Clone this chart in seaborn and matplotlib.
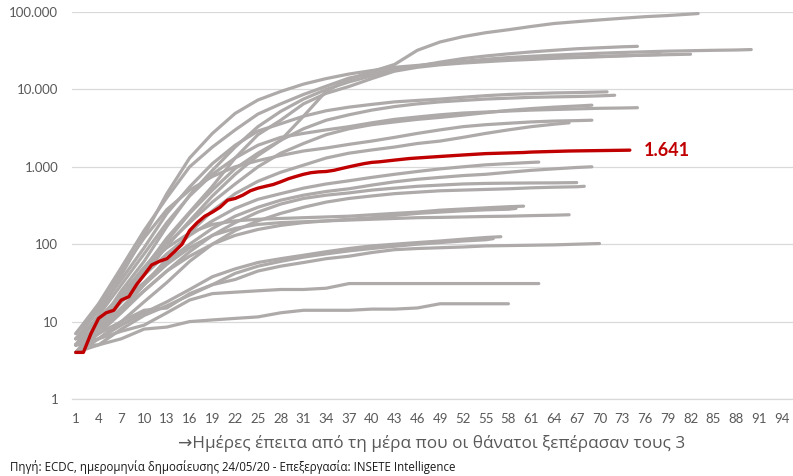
import numpy as np
import pandas as pd
import matplotlib
matplotlib.use("Agg")
import matplotlib.pyplot as plt
from matplotlib.ticker import FixedLocator, FuncFormatter, NullLocator
import seaborn as sns

# cumulative deaths, sampled every 3 days (day 1, 4, 7, ...) + last day of each series
GRID = list(range(1, 92, 3))

s01 = [6, 11, 22, 50, 110, 250, 500, 950, 1500, 2200, 4500, 9500, 13500, 17000, 21000, 32000, 41000, 48000, 54000, 59000, 65000, 71000, 75000, 79000, 83000, 87000, 90000, 94000, 95500]
s02 = [5, 9, 25, 60, 170, 430, 900, 1800, 3300, 5200, 7500, 10000, 12500, 15000, 17500, 20000, 22500, 25000, 27000, 28800, 30500, 32000, 33500, 34500, 35500, 36000]
s03 = [7, 17, 50, 150, 400, 1000, 1800, 3000, 4800, 6500, 8600, 11000, 14000, 16000, 18000, 19800, 21500, 23000, 24500, 25800, 26800, 27700, 28500, 29300, 30000, 30600, 31200, 31600, 32000, 32300, 32700]
s04 = [5, 12, 40, 130, 450, 1300, 2700, 4900, 7300, 9400, 11700, 13800, 15800, 17500, 19300, 20400, 21800, 22500, 23500, 24300, 25000, 25600, 26200, 26700, 27200, 27700, 28100, 28500]
s05 = [4, 9, 19, 48, 120, 260, 560, 1300, 2600, 4000, 6500, 8900, 10900, 13800, 17200, 19300, 20800, 21900, 22800, 23700, 24400, 25200, 25800, 26400, 27100, 27800, 28200]
s06 = [6, 14, 35, 90, 250, 550, 1100, 1900, 2900, 3600, 4500, 5300, 5900, 6400, 6900, 7200, 7500, 7900, 8300, 8600, 8800, 9000, 9100, 9250, 9300]
s07 = [4, 8, 18, 40, 95, 200, 420, 800, 1400, 2200, 3100, 4000, 4700, 5400, 6000, 6500, 6900, 7200, 7500, 7700, 7900, 8000, 8100, 8250, 8400]
s08 = [5, 12, 30, 75, 190, 420, 800, 1300, 1900, 2400, 2700, 3000, 3300, 3700, 4100, 4400, 4700, 4950, 5100, 5250, 5400, 5500, 5600, 5700, 5750, 5800]
s09 = [5, 9, 20, 45, 100, 190, 350, 600, 1000, 1500, 2000, 2600, 3100, 3500, 3800, 4100, 4350, 4650, 5000, 5350, 5650, 5900, 6100, 6250]
s10 = [7, 15, 45, 120, 280, 500, 750, 1000, 1200, 1400, 1600, 1750, 1950, 2150, 2400, 2700, 3000, 3300, 3500, 3650, 3800, 3900, 3950, 4000]
s11 = [4, 7, 14, 30, 65, 140, 270, 450, 650, 850, 1050, 1300, 1500, 1650, 1800, 2000, 2150, 2400, 2700, 3000, 3300, 3550, 3700]
s12 = [5, 9, 20, 40, 75, 130, 200, 290, 380, 450, 530, 600, 660, 730, 800, 870, 940, 1000, 1060, 1100, 1140, 1150]
s13 = [6, 10, 18, 32, 60, 100, 160, 230, 300, 370, 430, 480, 520, 580, 640, 690, 730, 770, 800, 850, 900, 940, 980, 1000]
s14 = [5, 8, 14, 25, 45, 80, 130, 190, 260, 330, 390, 430, 460, 500, 530, 560, 580, 600, 610, 615, 618, 620, 625]
s15 = [4, 6, 10, 18, 32, 60, 100, 150, 200, 250, 300, 350, 390, 420, 450, 470, 490, 500, 510, 520, 535, 545, 552, 560]
s16 = [6, 10, 22, 50, 90, 140, 180, 200, 210, 215, 220, 225, 230, 240, 250, 260, 275, 285, 295, 305, 310]
s17 = [5, 7, 13, 25, 45, 70, 100, 130, 155, 175, 190, 200, 210, 220, 235, 250, 260, 270, 278, 283, 290]
s18 = [5, 8, 15, 30, 55, 90, 130, 160, 180, 190, 195, 200, 205, 210, 215, 220, 222, 225, 228, 230, 234, 237, 240]
s19 = [4, 6, 9, 13, 18, 26, 38, 48, 58, 65, 72, 80, 88, 95, 100, 105, 110, 116, 122, 125]
s20 = [4, 5, 8, 12, 16, 22, 30, 42, 52, 60, 68, 75, 82, 88, 94, 100, 105, 110, 114, 118]
s21 = [5, 7, 10, 14, 15, 23, 30, 35, 45, 52, 58, 65, 70, 78, 85, 88, 90, 92, 95, 96, 97, 98, 100, 102]
s22 = [5, 6, 7.5, 9, 13, 19, 23, 24, 25, 26, 26, 27, 31, 31, 31, 31, 31, 31, 31, 31, 31, 31]
s23 = [5, 5, 6, 8, 8.5, 10, 10.5, 11, 11.5, 13, 14, 14, 14, 14.5, 14.5, 15, 17, 17, 17, 17]

gray_series = [s01, s02, s03, s04, s05, s06, s07, s08, s09, s10, s11, s12,
               s13, s14, s15, s16, s17, s18, s19, s20, s21, s22, s23]
gray_last_day = [83, 75, 90, 82, 78, 71, 72, 75, 69, 69, 66, 62,
                 69, 67, 68, 60, 59, 66, 57, 56, 70, 62, 58]

# highlighted country, daily values
red_days = list(range(1, 75))
red_vals = [4, 4, 7, 11, 13, 14, 19, 21, 30, 40,
            54, 60, 65, 80, 100, 150, 190, 230, 260, 300,
            370, 390, 430, 490, 530, 560, 590, 640, 700, 750,
            800, 840, 860, 870, 900, 950, 1000, 1050, 1100, 1140,
            1160, 1190, 1220, 1250, 1280, 1300, 1320, 1340, 1360, 1380,
            1400, 1420, 1440, 1460, 1480, 1490, 1500, 1510, 1520, 1530,
            1550, 1560, 1570, 1580, 1590, 1600, 1605, 1610, 1615, 1620,
            1625, 1630, 1635, 1641]
red_label = "1.641"

x_ticks = list(range(1, 95, 3))
y_ticks = [1, 10, 100, 1000, 10000, 100000]

GRAY = "#AEAAAA"
RED = "#C00000"
TXT = "#595959"

rows = []
for i, (vals, last) in enumerate(zip(gray_series, gray_last_day)):
    days = [d for d in GRID if d < last] + [last]
    assert len(days) == len(vals), (i, len(days), len(vals))
    for d, v in zip(days, vals):
        rows.append({"series": f"s{i+1:02d}", "day": d, "deaths": v})
gray_df = pd.DataFrame(rows)
red_df = pd.DataFrame({"day": red_days, "deaths": red_vals})

sns.set_theme(style="white")
plt.rcParams["font.family"] = ["Lato", "Open Sans", "DejaVu Sans"]

fig = plt.figure(figsize=(7.93, 4.76), dpi=100)
ax = fig.add_axes([72 / 793, 77 / 476, 721 / 793, 387 / 476])

sns.lineplot(data=gray_df, x="day", y="deaths", units="series", estimator=None,
             color=GRAY, lw=2.3, ax=ax, legend=False)
sns.lineplot(data=red_df, x="day", y="deaths", color=RED, lw=2.4, ax=ax, legend=False)

ax.set_yscale("log")
ax.set_ylim(1, 100000)
ax.set_xlim(0.5, 95.5)

ax.yaxis.set_major_locator(FixedLocator(y_ticks))
ax.yaxis.set_minor_locator(NullLocator())
ax.yaxis.set_major_formatter(FuncFormatter(lambda v, p: f"{int(round(v)):,}".replace(",", ".")))
ax.xaxis.set_major_locator(FixedLocator(x_ticks))
ax.xaxis.set_minor_locator(FixedLocator(np.arange(0.5, 96, 1)))

ax.grid(axis="y", color="#D9D9D9", lw=0.9)
ax.grid(axis="x", visible=False)
for s in ["left", "top", "right"]:
    ax.spines[s].set_visible(False)
ax.spines["bottom"].set_color("#D9D9D9")
ax.spines["bottom"].set_linewidth(0.9)

ax.tick_params(axis="y", length=0, pad=10, labelsize=9.5, labelcolor=TXT)
ax.tick_params(axis="x", which="major", length=0, pad=10, labelsize=9.5, labelcolor=TXT)
ax.tick_params(axis="x", which="minor", length=4, width=0.9, color="#D9D9D9")
ax.set_xlabel("")
ax.set_ylabel("")

ax.annotate(red_label, xy=(red_days[-1], red_vals[-1]), xytext=(10, 0),
            textcoords="offset points", va="center", ha="left",
            color=RED, fontsize=13, fontweight="bold")

fig.text(432 / 793, 1 - 443 / 476,
         "→Ημέρες έπειτα από τη μέρα που οι θάνατοι ξεπέρασαν τους 3",
         ha="center", va="center", fontsize=12.3, color=TXT,
         family=["Open Sans", "DejaVu Sans"])
fig.text(10 / 793, 1 - 467 / 476,
         "Πηγή: ECDC, ημερομηνία δημοσίευσης 24/05/20 - Επεξεργασία: INSETE Intelligence",
         ha="left", va="center", fontsize=8.3, color="#1A1A1A",
         family=["Open Sans", "DejaVu Sans"])

fig.savefig("out.png", dpi=100)
